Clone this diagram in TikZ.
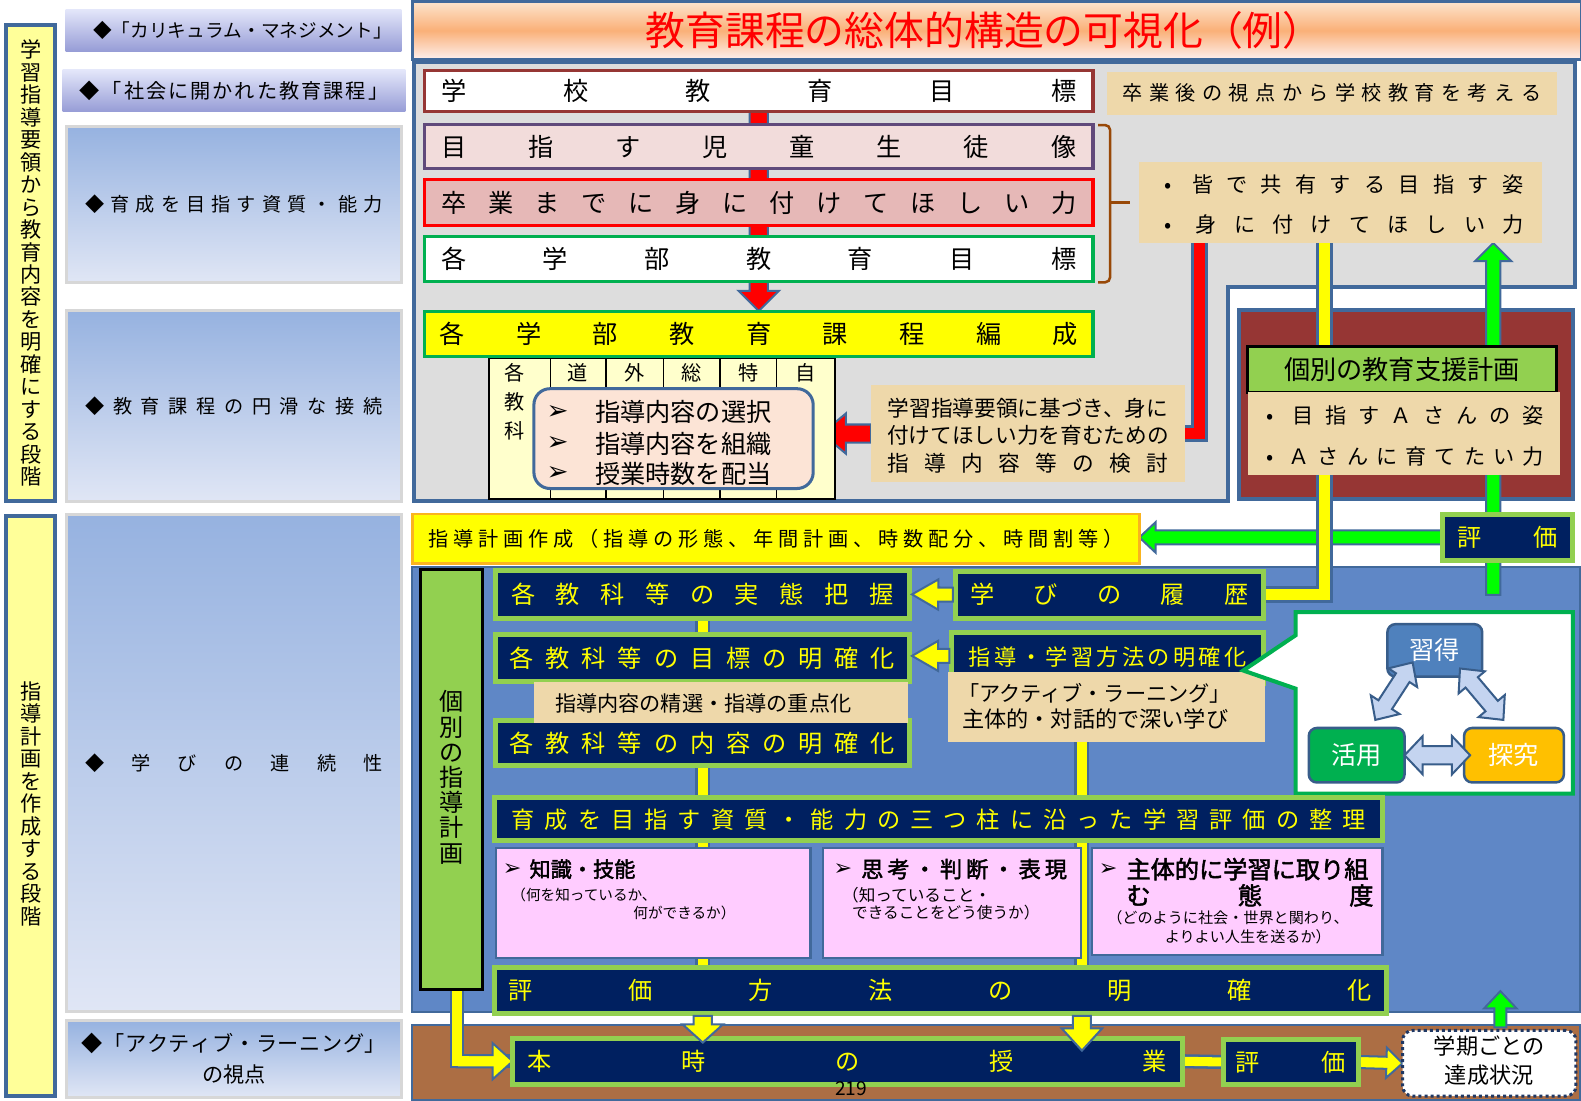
\documentclass[tikz,border=0pt]{standalone}
\usepackage{fontspec}
\setmainfont{Noto Sans CJK JP}
\newfontfamily\dejavu{DejaVu Sans}
\newfontfamily\cjkbold[FakeBold=2]{Noto Sans CJK JP}
\usetikzlibrary{calc}
\pgfdeclarelayer{back}
\pgfdeclarelayer{mid}
\pgfsetlayers{back,mid,main}
\definecolor{navy}{RGB}{0,32,96}
\definecolor{lgreen}{RGB}{146,208,80}
\definecolor{bryel}{RGB}{255,255,0}
\definecolor{parch}{RGB}{238,216,170}
\definecolor{greyp}{RGB}{221,221,221}
\definecolor{bluep}{RGB}{95,135,198}
\definecolor{brownp}{RGB}{172,110,68}
\definecolor{dred}{RGB}{150,54,52}
\definecolor{pinkf}{RGB}{255,204,255}
\definecolor{tabf}{RGB}{255,255,204}
\definecolor{peach}{RGB}{252,228,214}
\definecolor{ltyel}{RGB}{255,255,153}
\definecolor{gbord}{RGB}{0,176,80}
\definecolor{brgreen}{RGB}{0,255,0}
\definecolor{bbord}{RGB}{65,105,155}
\definecolor{r1c}{RGB}{150,54,52}
\definecolor{r2c}{RGB}{96,74,123}
\definecolor{r2f}{RGB}{242,220,219}
\definecolor{r3f}{RGB}{230,184,183}
\definecolor{planor}{RGB}{250,180,30}
\definecolor{labtop}{RGB}{150,178,224}
\definecolor{labbot}{RGB}{224,230,245}
\definecolor{labgrey}{RGB}{215,215,215}
\definecolor{lavtop}{RGB}{228,231,250}
\definecolor{lavbot}{RGB}{150,156,214}
\definecolor{ttop}{RGB}{253,228,205}
\definecolor{tmid}{RGB}{250,176,120}
\definecolor{tbot}{RGB}{254,240,238}
\definecolor{bracec}{RGB}{152,72,7}
\definecolor{cbord}{RGB}{56,93,138}
\definecolor{dbfill}{RGB}{196,212,240}
\definecolor{gakkib}{RGB}{31,56,100}
\definecolor{shuf}{RGB}{79,129,189}
\definecolor{tanf}{RGB}{255,192,0}
\newcommand\fsz[1]{\fontsize{#1}{#1}\selectfont}
\makeatletter
\def\sp@loop#1{\ifx#1\relax\else\hfill#1\expandafter\sp@loop\fi}
\def\sp@first#1{#1\sp@loop}
\newcommand\spread[2]{\makebox[#1][s]{\sp@first#2\relax}}
\makeatother
\newcommand\bul{\makebox[1em]{•}}
\newcommand\R[7][]{\node[anchor=north west,inner sep=0pt,outer sep=0pt,minimum width={(#5)*1pt-(#3)*1pt},minimum height={(#6)*1pt-(#4)*1pt},#1] (#2) at (#3,#4) {#7};}
\newcommand\barrow[6]{\filldraw[#1] ($(#2)!#4!90:(#3)$) -- ($(#3)!#6!(#2)!#4!-90:(#2)$) -- ($(#3)!#6!(#2)!#5!-90:(#2)$) -- (#3) -- ($(#3)!#6!(#2)!#5!90:(#2)$) -- ($(#3)!#6!(#2)!#4!90:(#2)$) -- ($(#2)!#4!-90:(#3)$) -- cycle;}
\newcommand\dbarrow[6]{\filldraw[#1] (#2) -- ($(#2)!#6!(#3)!#5!90:(#3)$) -- ($(#2)!#6!(#3)!#4!90:(#3)$) -- ($(#3)!#6!(#2)!#4!-90:(#2)$) -- ($(#3)!#6!(#2)!#5!-90:(#2)$) -- (#3) -- ($(#3)!#6!(#2)!#5!90:(#2)$) -- ($(#3)!#6!(#2)!#4!90:(#2)$) -- ($(#2)!#6!(#3)!#4!-90:(#3)$) -- ($(#2)!#6!(#3)!#5!-90:(#3)$) -- cycle;}
\begin{document}
\begin{tikzpicture}[x=1pt,y=-1pt,
 navyb/.style={fill=navy,draw=lgreen,line width=5pt,text=bryel,font=\fsz{24}},
 parchb/.style={fill=parch},
 labb/.style={top color=labtop,bottom color=labbot,draw=labgrey,line width=3pt},
 lavb/.style={top color=lavtop,bottom color=lavbot},
 rowb/.style={line width=3pt,font=\fsz{25}},
 pinkb/.style={fill=pinkf,draw=bbord,line width=2.5pt},
 yarr/.style={fill=bryel,draw=bbord,line width=2pt},
 rarr/.style={fill=red,draw=bbord,line width=2pt},
 garr/.style={fill=brgreen,draw=bbord,line width=2pt},
 darr/.style={fill=dbfill,draw=cbord,line width=2pt},
 lineb/.style={draw=bbord,line width=17pt},
 liney/.style={draw=bryel,line width=11pt},
 liner/.style={draw=red,line width=11pt},
 thinb/.style={draw=bbord,line width=15pt},
 thiny/.style={draw=bryel,line width=10pt},
 cboxb/.style={rounded corners=8pt,draw=cbord,line width=2.5pt,text=white,font=\fsz{25}},
 txtw/.style={anchor=west,inner sep=0pt},
 ]
\useasboundingbox (0,0) rectangle (1568,1091);
\begin{pgfonlayer}{back}
\fill[white] (0,0) rectangle (1568,1091);
\filldraw[fill=greyp,draw=bbord,line width=4pt] (411,61) -- (1562,61) -- (1562,285) -- (1218,285) -- (1218,497) -- (411,497) -- cycle;
\R[fill=dred,draw=bbord,line width=4pt]{dredbox}{1229}{307}{1560}{495}{}
\filldraw[fill=bluep,draw=bbord,line width=2pt] (409,562) rectangle (1567,1004);
\filldraw[fill=brownp,draw=bbord,line width=2pt] (409,1017) rectangle (1567,1091);
\end{pgfonlayer}

% left column
\R[fill=ltyel,draw=bbord,line width=4pt]{barA}{6}{25}{55}{497}{}
\node[font=\fontsize{21}{22.3}\selectfont,align=center] (barAt) at (barA.center) {学\\習\\指\\導\\要\\領\\か\\ら\\教\\育\\内\\容\\を\\明\\確\\に\\す\\る\\段\\階};
\R[fill=ltyel,draw=bbord,line width=4pt]{barB}{6}{512}{55}{1087}{}
\node[font=\fontsize{21}{22.3}\selectfont,align=center] (barBt) at (30.5,797) {指\\導\\計\\画\\を\\作\\成\\す\\る\\段\\階};
\R[lavb,font=\fsz{18.5}]{lab1}{65}{9}{398}{51}{\spread{278pt}{◆「カリキュラム・マネジメント」}}
\R[lavb,font=\fsz{20}]{lab2}{62}{69}{402}{111}{\spread{306pt}{◆「社会に開かれた教育課程」}}
\R[labb,font=\fsz{19}]{lab3}{66}{125}{398}{280}{\spread{295pt}{◆育成を目指す資質・能力}}
\R[labb,font=\fsz{19}]{lab4}{66}{308}{398}{497}{\spread{295pt}{◆教育課程の円滑な接続}}
\R[labb,font=\fsz{19}]{lab5}{66}{510}{398}{1003}{\spread{295pt}{◆学びの連続性}}
\R[labb]{lab6}{66}{1012}{398}{1088}{}
\node[font=\fontsize{21}{31}\selectfont,align=center] (lab6t) at (lab6.center) {\spread{302pt}{◆「アクティブ・ラーニング」}\\の視点};

% title
\R[top color=ttop,bottom color=tbot,middle color=tmid,draw=bbord,line width=3pt]{title}{409}{1.5}{1568}{59}{}
\node[font=\fsz{39.5},text=red] (titlet) at (976,30) {教育課程の総体的構造の可視化（例）};

% rows
\R[rowb,fill=white,draw=r1c]{r1}{421}{69.5}{1084}{111}{\spread{630pt}{学校教育目標}}
\R[rowb,fill=r2f,draw=r2c]{r2}{421}{123.5}{1084}{167.5}{\spread{630pt}{目指す児童生徒像}}
\R[rowb,fill=r3f,draw=red]{r3}{421}{178.5}{1084}{223.5}{\spread{630pt}{卒業までに身に付けてほしい力}}
\R[rowb,fill=white,draw=gbord]{r4}{421}{234.5}{1084}{279.5}{\spread{630pt}{各学部教育目標}}
\R[fill=tabf,draw=black,line width=2pt]{tab}{485}{355}{828}{495}{}
\foreach \cx in {546,601,658,714,770} \draw[line width=1.5pt] (\cx,355) -- (\cx,495);
\node[font=\fsz{20}] (h1) at (510,370) {各};
\node[font=\fsz{20}] (h1b) at (510,399) {教};
\node[font=\fsz{20}] (h1c) at (510,427) {科};
\node[font=\fsz{20}] (h2) at (573,370) {道};
\node[font=\fsz{20}] (h3) at (629,370) {外};
\node[font=\fsz{20}] (h4) at (686,370) {総};
\node[font=\fsz{20}] (h5) at (742,370) {特};
\node[font=\fsz{20}] (h6) at (799,370) {自};
\R[rowb,fill=bryel,draw=gbord]{r5}{421}{308.5}{1084}{353.5}{\spread{633pt}{各学部教育課程編成}}
\draw[draw=bracec,line width=2.5pt,rounded corners=5pt] (1089,124) -- (1101,124) -- (1101,280) -- (1089,280);
\draw[draw=bracec,line width=2.5pt] (1101,201) -- (1121,201);

\R[fill=peach,draw=bbord,line width=3pt,rounded corners=16pt]{sel}{529.5}{385.5}{806.5}{484.5}{}
\foreach \yy/\lbl [count=\i] in {409/指導内容の選択,440/指導内容を組織,470/授業時数を配当} {
 \node[font=\dejavu\fsz{26}] (sa\i) at (553,\yy) {➢};
 \node[font=\fsz{25},txtw] (sb\i) at (590,\yy) {\lbl};}

\R[parchb,font=\fsz{20}]{p1}{1098}{71}{1544}{114}{\spread{415pt}{卒業後の視点から学校教育を考える}}
\R[parchb]{p2}{1130}{161}{1529}{241}{}
\node[font=\fontsize{21}{40}\selectfont,align=center] (p2t) at (1329.5,203) {\spread{363pt}{\bul 皆で共有する目指す姿}\\\spread{363pt}{\bul 身に付けてほしい力}};
\R[parchb]{p3}{864}{382}{1175}{478}{}
\node[font=\fontsize{21.5}{27}\selectfont,align=center] (p3t) at (1019.5,432) {学習指導要領に基づき、身に\\付けてほしい力を育むための\\\spread{279pt}{指導内容等の検討}};

\R[fill=lgreen,draw=black,line width=3pt,font=\fsz{26}]{kobetsu}{1237.5}{343.5}{1543.5}{389}{個別の教育支援計画}
\R[parchb]{p4}{1238}{389}{1547}{471}{}
\node[font=\fontsize{21}{41}\selectfont,align=center] (p4t) at (1390,432.5) {\spread{282pt}{\bul 目指すＡさんの姿}\\\spread{282pt}{\bul Ａさんに育てたい力}};

\R[fill=bryel,draw=planor,line width=2.5pt,font=\fsz{20}]{plan}{409}{510}{1130}{559}{\spread{690pt}{指導計画作成（指導の形態、年間計画、時数配分、時間割等）}}
\R[navyb]{hyoka1}{1430.5}{510.5}{1559.5}{555.5}{\spread{99pt}{評価}}

\R[fill=lgreen,draw=black,line width=3pt]{kplan}{417.5}{564.5}{479}{981}{}
\node[font=\fontsize{24}{25}\selectfont,align=center] (kplant) at (448,771) {個\\別\\の\\指\\導\\計\\画};

\R[navyb]{n1}{491}{566}{902}{613}{\spread{379pt}{各教科等の実態把握}}
\R[navyb]{n2}{947.5}{566.5}{1253}{613}{\spread{276pt}{学びの履歴}}
\R[navyb]{n3}{491}{629.5}{902}{675.5}{\spread{382pt}{各教科等の目標の明確化}}
\R[navyb]{n5}{491}{714.5}{902}{759.5}{\spread{382pt}{各教科等の内容の明確化}}
\R[parchb]{seisen}{530}{676}{901}{717}{}
\node[font=\fsz{21}] (seisent) at (697.5,698) {指導内容の精選・指導の重点化};
\R[navyb,font=\fsz{22}]{n4}{944}{627.5}{1253}{677.5}{\raisebox{4.5pt}{\spread{275pt}{指導・学習方法の明確化}}}
\R[parchb]{al}{940}{666}{1255}{736}{}
\node[font=\fsz{21},txtw] (al1) at (950,688) {「アクティブ・ラーニング」};
\node[font=\fsz{22},txtw] (al2) at (954,713) {主体的・対話的で深い学び};

% callout
\filldraw[fill=white,draw=gbord,line width=4pt] (1285,607) -- (1560,607) -- (1560,787) -- (1285,787) -- (1285,683) -- (1233,665) -- (1285,630) -- cycle;
\R[cboxb,fill=shuf]{shu}{1376}{619}{1470}{671}{習得}
\R[cboxb,fill=gbord]{katsu}{1298}{722}{1393}{776}{活用}
\R[cboxb,fill=tanf]{tan}{1452}{722}{1551}{776}{探究}
\coordinate (cb1) at ($(shu.south west)+(25,-14)$);
\coordinate (cb2) at ($(katsu.north east)+(-29,-8)$);
\coordinate (cc1) at ($(shu.south east)+(-22,-8)$);
\coordinate (cc2) at ($(tan.north west)+(39,-8)$);
\coordinate (ca2) at ($(tan.west)+(6,0)$);
\dbarrow{darr}{cb1}{cb2}{8pt}{17pt}{18pt}
\dbarrow{darr}{cc1}{cc2}{8pt}{17pt}{18pt}
\dbarrow{darr}{katsu.east}{ca2}{9pt}{19pt}{18pt}

\R[navyb,font=\fsz{23}]{n6}{490.5}{791}{1371.5}{834}{\spread{847pt}{育成を目指す資質・能力の三つ柱に沿った学習評価の整理}}
\R[pinkb]{k1}{492}{841}{804}{950}{}
\R[pinkb]{k2}{816}{841}{1072}{950}{}
\R[pinkb]{k3}{1083}{841}{1371}{947}{}
\node[font=\dejavu\fsz{22}] (k1a) at (508,862) {➢};
\node[font=\cjkbold\fsz{21},txtw] (k1b) at (525,862) {知識・技能};
\node[font=\fsz{14.5},txtw] (k1c) at (507,888) {（何を知っているか、};
\node[font=\fsz{14.5},txtw] (k1d) at (628,905) {何ができるか）};
\node[font=\dejavu\fsz{22}] (k2a) at (836,862) {➢};
\node[font=\cjkbold\fsz{22},txtw] (k2b) at (854,862) {\spread{204pt}{思考・判断・表現}};
\node[font=\fsz{16.5},txtw] (k2c) at (835,888) {（知っていること・};
\node[font=\fsz{15.5},txtw] (k2d) at (845,905) {できることをどう使うか）};
\node[font=\dejavu\fsz{22}] (k3a) at (1099,862) {➢};
\node[font=\cjkbold\fsz{24},txtw] (k3b) at (1117,862) {主体的に学習に取り組};
\node[font=\cjkbold\fsz{24},txtw] (k3c) at (1117,888) {\spread{245pt}{む態度}};
\node[font=\fsz{15},txtw] (k3d) at (1098,910) {（どのように社会・世界と関わり、};
\node[font=\fsz{15},txtw] (k3e) at (1155,929) {よりよい人生を送るか）};
\R[navyb]{n7}{490}{960}{1375}{1005}{\spread{856pt}{評価方法の明確化}}
\R[navyb]{n8}{508.5}{1029.5}{1172.5}{1075.5}{\spread{634pt}{本時の授業}}
\R[navyb]{n9}{1213}{1030.5}{1347}{1076}{\spread{110pt}{評価}}
\R[fill=white,draw=gakkib,line width=3pt,dashed,rounded corners=10pt]{gakki}{1391}{1022}{1563}{1087}{}
\node[font=\fontsize{22}{29}\selectfont,align=center] (gakkit) at (1477,1052) {学期ごとの\\達成状況};

% connectors behind boxes
\begin{pgfonlayer}{mid}
\barrow{rarr}{r1.south}{r5.north}{9pt}{20pt}{20pt}
\coordinate (rlx) at (1190,0);
\draw[lineb] (p2.south -| rlx) |- (p3.east);
\draw[liner] (p2.south -| rlx) |- (p3.east);
\coordinate (tipR) at (815,430);
\barrow{rarr}{p3.west}{tipR}{9pt}{20pt}{24pt}
\coordinate (gx) at (1481,0);
\coordinate (gbot) at (1481,590);
\barrow{garr}{gbot}{p2.south -| gx}{7pt}{18pt}{18pt}
\barrow{garr}{hyoka1.west}{plan.east |- hyoka1.west}{7pt}{15pt}{16pt}
\coordinate (ylx) at (1314,0);
\draw[lineb] (p2.south -| ylx) |- (n2.east);
\draw[liney] (p2.south -| ylx) |- (n2.east);
\coordinate (yx1) at (697,0);
\coordinate (yx2) at (1073,0);
\draw[thinb] (n1.south -| yx1) -- (n7.north -| yx1);
\draw[thiny] (n1.south -| yx1) -- (n7.north -| yx1);
\draw[thinb] (al.south -| yx2) -- (n7.north -| yx2);
\draw[thiny] (al.south -| yx2) -- (n7.north -| yx2);
\coordinate (kx) at (453,0);
\coordinate (kcorner) at (kx |- n8.west);
\draw[thinb,line width=14pt] (kplan.south -| kx) |- (n8.west);
\barrow{yarr}{kcorner}{n8.west}{6pt}{18pt}{20pt}
\draw[thiny,line width=10pt] (kplan.south -| kx) |- ($(kcorner)+(12,0)$);
\draw[thinb,line width=14pt] (n8.east) -- (n9.west);
\draw[thiny,line width=9pt] (n8.east) -- (n9.west);
\barrow{yarr}{n9.east}{gakki.west}{6pt}{15pt}{16pt}
\end{pgfonlayer}

% connectors on top
\coordinate (ya1s) at ($(n2.west)+(-2.5,0)$);
\coordinate (ya1e) at ($(n1.east)+(2.5,0)$);
\coordinate (ya2s) at ($(n4.west)+(-2.5,-2)$);
\coordinate (ya2e) at ($(n3.east)+(2.5,-2)$);
\barrow{yarr}{ya1s}{ya1e}{7pt}{15pt}{26pt}
\barrow{yarr}{ya2s}{ya2e}{7pt}{15pt}{26pt}
\coordinate (s1) at ($(n7.south -| yx1)+(0,2.5)$);
\coordinate (s2) at ($(n7.south -| yx2)+(0,2.5)$);
\coordinate (t1) at (697,1034);
\coordinate (t2) at (1073,1042);
\barrow{yarr}{s1}{t1}{9pt}{20pt}{18pt}
\barrow{yarr}{s2}{t2}{9pt}{20pt}{22pt}
\coordinate (gb1) at (1488,1019);
\coordinate (gb2) at (1488,983);
\barrow{garr}{gb1}{gb2}{6pt}{16pt}{17pt}
\node[font=\fsz{19}] (pnum) at (844,1080) {219};
\end{tikzpicture}
\end{document}
